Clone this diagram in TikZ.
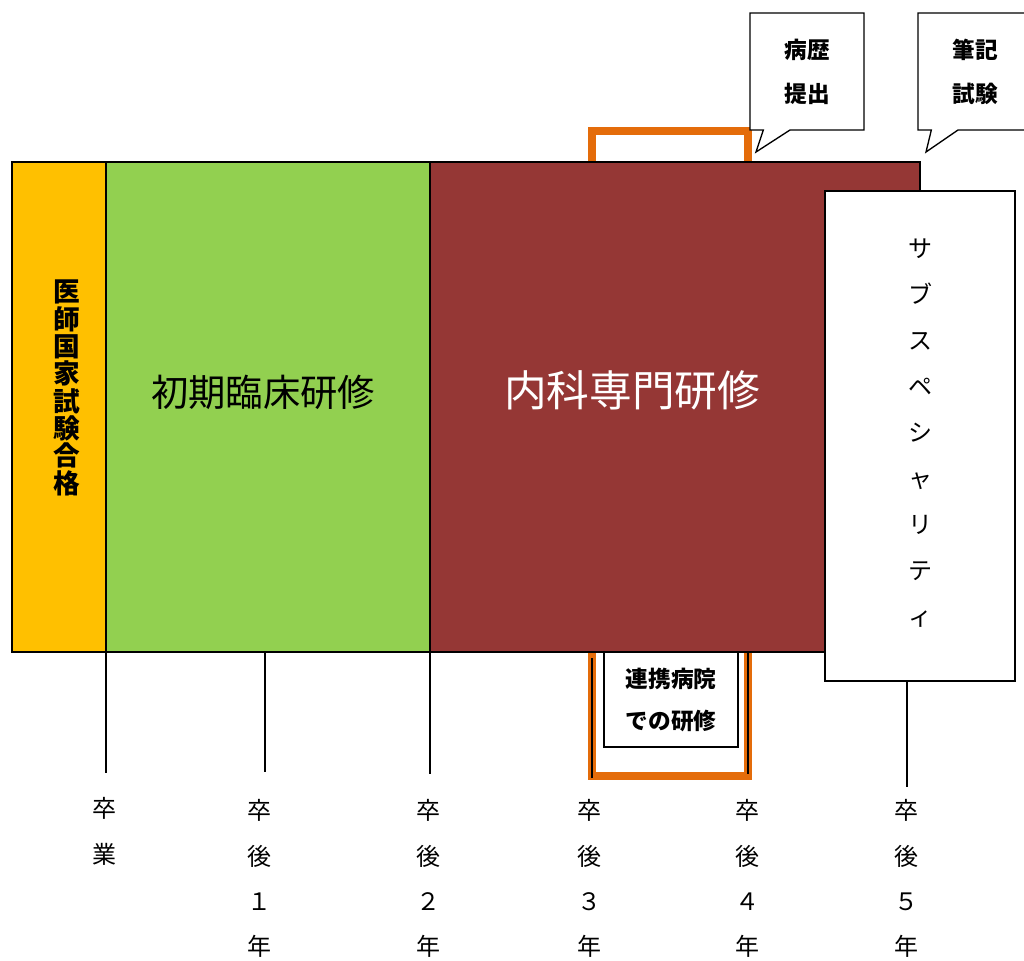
\documentclass[tikz,border=0pt]{standalone}
\usepackage{fontspec}
\setmainfont{Noto Sans CJK JP}
\usetikzlibrary{shapes.callouts}
\definecolor{passc}{HTML}{FFC000}
\definecolor{initc}{HTML}{92D050}
\definecolor{naikac}{HTML}{953735}
\definecolor{linkc}{HTML}{E46C0A}
\tikzset{every picture/.style={line width=0.75pt}}

\begin{document}
\begin{tikzpicture}[x=0.75pt,y=0.75pt,yscale=-1,xscale=1,
  bar/.style={draw=black, line width=1pt},
  tick/.style={draw=black, line width=1.3pt},
  bracket/.style={draw=linkc, line width=6.5pt},
  memo/.style={rectangle callout, draw=black, fill=white, line width=1pt, minimum width=85.5pt, minimum height=87.75pt, inner sep=0pt, callout pointer width=20pt, align=center, font=\fontsize{17}{33}\selectfont\bfseries},
  yearlbl/.style={anchor=north, inner sep=0pt, align=center, font=\fontsize{18}{34}\selectfont}]
\useasboundingbox (0,0) rectangle (1024,960);

%Shape: Bracket (top, bottom)
\draw [bracket] (592,162) -- (592,131) -- (748,131) -- (748,162) ;
\draw [bracket] (592,652) -- (592,776) -- (748,776) -- (748,652) ;

%Shape: Rectangle
\draw [bar, fill=passc] (12,162) rectangle (106,652) ;
%Shape: Rectangle
\draw [bar, fill=initc] (106,162) rectangle (430,652) ;
%Shape: Rectangle
\draw [bar, fill=naikac] (430,162) rectangle (920,652) ;
%Shape: Rectangle
\draw [bar, fill=white] (825,191) rectangle (1015,681) ;
%Shape: Rectangle
\draw [bar, fill=white] (604,652) rectangle (738,747) ;

% Text Node
\node (pass) at (67,388) [font=\fontsize{20}{20.5}\selectfont\bfseries, align=center] {医\\師\\国\\家\\試\\験\\合\\格};
% Text Node
\node (init) at (263,392) [font=\fontsize{28}{28}\selectfont] {初期臨床研修};
% Text Node
\node (naika) at (632,390) [text=white, font=\fontsize{32}{32}\selectfont] {内科専門研修};
% Text Node
\node (subsp) at (920,433) [font=\fontsize{18}{34.5}\selectfont, align=center] {サ\\ブ\\ス\\ペ\\シ\\ャ\\リ\\テ\\ィ};
% Text Node
\node (renkei) at (671,700) [font=\fontsize{17}{32}\selectfont\bfseries, align=center] {連携病院\\での研修};

%Callouts
\coordinate (tip1) at (756,152);
\node [memo, callout absolute pointer=(tip1)] (byoreki) at (807,71.5) {病歴\\提出};
\coordinate (tip2) at (926,152);
\node [memo, callout absolute pointer=(tip2)] (hikki) at (975,71.5) {筆記\\試験};

%Ticks
\coordinate (t0) at (106,652); \coordinate (e0) at (106,773);
\coordinate (t1) at (265,652); \coordinate (e1) at (265,772);
\coordinate (t2) at (430,652); \coordinate (e2) at (430,774);
\coordinate (t3) at (592,658); \coordinate (e3) at (592,778);
\coordinate (t4) at (748,652); \coordinate (e4) at (748,774);
\coordinate (t5) at (907,681); \coordinate (e5) at (907,787);
\draw [tick] (t0) -- (e0) ;
\draw [tick] (t1) -- (e1) ;
\draw [tick] (t2) -- (e2) ;
\draw [tick] (t3) -- (e3) ;
\draw [tick] (t4) -- (e4) ;
\draw [tick] (t5) -- (e5) ;

% Year labels
\node [yearlbl] (y0) at (104,797) {卒\\業};
\node [yearlbl] (y1) at (259,799) {卒\\後\\１\\年};
\node [yearlbl] (y2) at (428,799) {卒\\後\\２\\年};
\node [yearlbl] (y3) at (589,799) {卒\\後\\３\\年};
\node [yearlbl] (y4) at (747,799) {卒\\後\\４\\年};
\node [yearlbl] (y5) at (906,799) {卒\\後\\５\\年};

\end{tikzpicture}
\end{document}
